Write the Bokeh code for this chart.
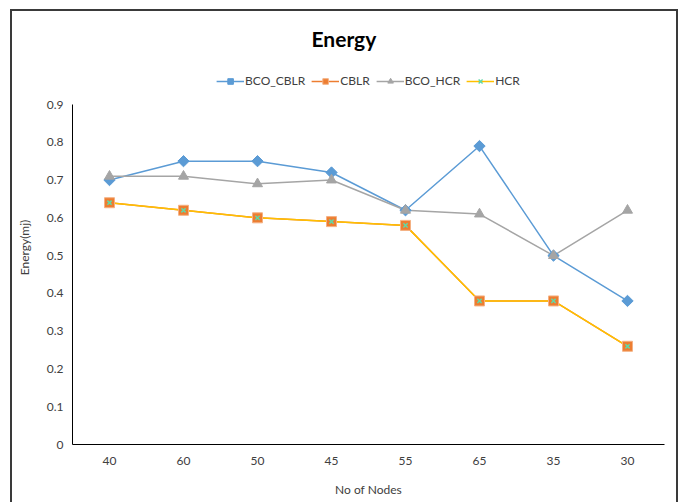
from bokeh.plotting import figure
from bokeh.models import FactorRange, Range1d, Legend, LegendItem, SingleIntervalTicker
from bokeh.embed import file_html
from bokeh.resources import INLINE

nodes = ["40", "60", "50", "45", "55", "65", "35", "30"]
bco_cblr = [0.70, 0.75, 0.75, 0.72, 0.62, 0.79, 0.50, 0.38]
cblr = [0.64, 0.62, 0.60, 0.59, 0.58, 0.38, 0.38, 0.26]
bco_hcr = [0.71, 0.71, 0.69, 0.70, 0.62, 0.61, 0.50, 0.62]
hcr = [0.64, 0.62, 0.60, 0.59, 0.58, 0.38, 0.38, 0.26]
y_ticks_max = 0.9

FONT = "Lato"

frame_css = {
    "background-color": "#ffffff",
    "background-image": ("linear-gradient(#3a3a3a,#3a3a3a), linear-gradient(#3a3a3a,#3a3a3a), "
                         "linear-gradient(#3a3a3a,#3a3a3a)"),
    "background-size": "2px 495px, 668px 2px, 2px 495px",
    "background-position": "10px 9px, 10px 9px, 676px 9px",
    "background-repeat": "no-repeat",
}

TOP = 50
y_end = y_ticks_max * (444 - TOP) / (444 - 104)

p = figure(width=682, height=502, x_range=FactorRange(*nodes, range_padding=0),
           y_range=Range1d(0, y_end), output_backend="svg", toolbar_location=None,
           min_border_left=72, min_border_right=18, min_border_top=TOP, min_border_bottom=58,
           styles=frame_css)
p.border_fill_alpha = 0
p.background_fill_alpha = 0
p.outline_line_color = None
p.xgrid.grid_line_color = None
p.ygrid.grid_line_color = None

p.title.text = "Energy"
p.title.align = "left"
p.title.offset = 239
p.title.standoff = 0
p.title.text_font = FONT
p.title.text_font_size = "21px"
p.title.text_font_style = "bold"
p.title.text_color = "#000000"

p.yaxis.ticker = SingleIntervalTicker(interval=0.1)
p.yaxis.bounds = (0, y_ticks_max)
for ax in (p.xaxis[0], p.yaxis[0]):
    ax.axis_line_color = "#000000"
    ax.major_tick_line_color = None
    ax.minor_tick_line_color = None
    ax.major_label_text_font = FONT
    ax.major_label_text_font_size = "12px"
    ax.major_label_text_color = "#404040"
    ax.axis_label_text_font = FONT
    ax.axis_label_text_font_size = "12px"
    ax.axis_label_text_font_style = "normal"
    ax.axis_label_text_color = "#404040"
p.xaxis.axis_label = "No of Nodes"
p.yaxis.axis_label = "Energy(mj)"
p.yaxis.major_label_standoff = 3
p.xaxis.major_label_standoff = 6
p.yaxis.axis_label_standoff = 12
p.xaxis.axis_label_standoff = 14

series = [
    ("BCO_CBLR", bco_cblr, "#5B9BD5", "square", 8, 0.785398, "#5B9BD5", "#5B9BD5"),
    ("CBLR", cblr, "#ED7D31", "square", 10, 0.0, "#ED7D31", "#F4B183"),
    ("BCO_HCR", bco_hcr, "#A5A5A5", "triangle", 10, 0.0, "#A5A5A5", "#A5A5A5"),
    ("HCR", hcr, "#FFC000", "x", 6, 0.0, None, "#5FD9A8"),
]
lines = []
for name, vals, col, *_ in series:
    lines.append(p.line(nodes, vals, line_color=col, line_width=1.5))
items = []
for (name, vals, col, marker, size, ang, fill, lc), ln in zip(series, lines):
    sc = p.scatter(nodes, vals, marker=marker, size=size, angle=ang, fill_color=fill,
                   line_color=lc, line_width=1.5 if marker == "x" else 1)
    items.append(LegendItem(label=name, renderers=[ln, sc]))

legend = Legend(items=items, orientation="horizontal", location="top_center",
                label_text_font=FONT, label_text_font_size="12px", label_text_color="#404040",
                border_line_color=None, background_fill_alpha=0, glyph_width=28,
                glyph_height=14, label_height=14,
                spacing=6, label_standoff=1, padding=0, margin=23)
p.add_layout(legend, "center")

open("out.html", "w").write(file_html(p, INLINE))
